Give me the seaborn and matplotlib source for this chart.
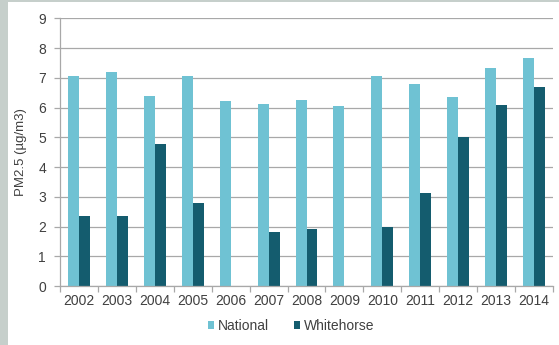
import numpy as np
import pandas as pd
import matplotlib
matplotlib.use("Agg")
import matplotlib.pyplot as plt
from matplotlib.patches import Rectangle
import seaborn as sns

# Annual mean PM2.5 concentrations
years = ["2002", "2003", "2004", "2005", "2006", "2007", "2008",
         "2009", "2010", "2011", "2012", "2013", "2014"]
national = [7.06, 7.2, 6.4, 7.06, 6.23, 6.11, 6.25, 6.05, 7.06, 6.8, 6.35, 7.33, 7.66]
whitehorse = [2.35, 2.35, 4.76, 2.78, np.nan, 1.8, 1.9, np.nan, 1.98, 3.11, 5.0, 6.08, 6.68]
series = ["National", "Whitehorse"]
colors = ["#6fc2d3", "#145c6e"]
y_ticks = list(range(0, 10))

df = pd.DataFrame({
    "Year": years * 2,
    "Series": [series[0]] * len(years) + [series[1]] * len(years),
    "PM25": national + whitehorse,
})

sns.set_theme(style="white")
plt.rcParams["font.family"] = ["Liberation Sans", "DejaVu Sans"]
text_color = "#404040"
grid_color = "#a8a8a8"

fig = plt.figure(figsize=(5.59, 3.45), dpi=100)
fig.patch.set_facecolor("white")
ax = fig.add_axes([60 / 559, 1 - 286 / 345, (553 - 60) / 559, (286 - 18.3) / 345])

sns.barplot(data=df, x="Year", y="PM25", hue="Series", order=years,
            hue_order=series, palette=colors, width=0.58, saturation=1,
            gap=0, ax=ax, errorbar=None, linewidth=0)

ax.set_ylim(0, 9)
ax.set_xlim(-0.5, len(years) - 0.5)
ax.set_yticks(y_ticks)
ax.yaxis.grid(True, color=grid_color, linewidth=0.9)
ax.set_axisbelow(True)

for side in ["top", "right"]:
    ax.spines[side].set_visible(False)
for side in ["left", "bottom"]:
    ax.spines[side].set_color(grid_color)
    ax.spines[side].set_linewidth(0.9)

# Category separators as minor ticks on the x axis
ax.set_xticks(np.arange(-0.5, len(years)), minor=True)
ax.tick_params(axis="x", which="major", length=0, pad=6,
               labelsize=10, labelcolor=text_color)
ax.tick_params(axis="x", which="minor", length=4, width=0.9,
               color=grid_color, direction="out", bottom=True)
ax.tick_params(axis="y", length=4, width=0.9, color=grid_color,
               direction="out", left=True, pad=6, labelsize=10,
               labelcolor=text_color)

ax.set_xlabel("")
ax.set_ylabel("PM2.5 (µg/m3)", fontsize=9.5, color=text_color, labelpad=8)

sns.move_legend(ax, "center", bbox_to_anchor=(291 / 559, 1 - 326 / 345),
                bbox_transform=fig.transFigure, ncol=2, frameon=False,
                title=None, fontsize=10, handlelength=0.45, handleheight=0.45,
                handletextpad=0.25, columnspacing=1.8, labelcolor=text_color)

# Grey frame along the left and top edges
fig.patches.append(Rectangle((0, 0), 8 / 559, 1, transform=fig.transFigure,
                             facecolor="#c6cfcb", edgecolor="none", zorder=-1))
fig.patches.append(Rectangle((0, 1 - 2 / 345), 1, 2 / 345, transform=fig.transFigure,
                             facecolor="#c6cfcb", edgecolor="none", zorder=-1))

fig.savefig("out.png", dpi=100)
